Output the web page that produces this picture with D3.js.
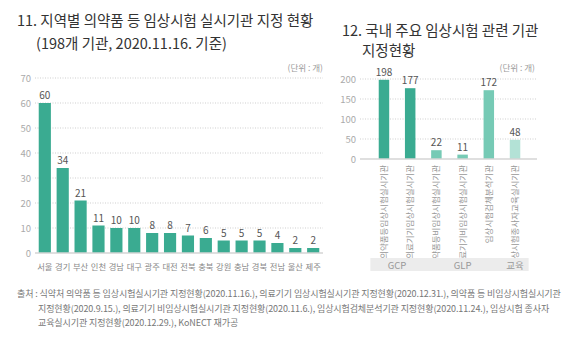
<!DOCTYPE html>
<html>
<head>
<meta charset="utf-8">
<script src="https://cdn.jsdelivr.net/npm/d3@7"></script>
<style>
  body { margin: 0; background: #fff; }
  text { font-family: "Noto Sans CJK KR", "Noto Sans", sans-serif; }
</style>
</head>
<body>
<script>
// chart 11 data
var regions = ["서울", "경기", "부산", "인천", "경남", "대구", "광주", "대전", "전북", "충북", "강원", "충남", "경북", "전남", "울산", "제주"];
var regionCounts = [60, 34, 21, 11, 10, 10, 8, 8, 7, 6, 5, 5, 5, 4, 2, 2];
var regionTicks = [0, 10, 20, 30, 40, 50, 60, 70];

// chart 12 data
var orgs = ["의약품등임상시험실시기관", "의료기기임상시험실시기관", "의약품등비임상시험실시기관",
            "의료기기비임상시험실시기관", "임상시험검체분석기관", "임상시험종사자교육실시기관"];
var orgCounts = [198, 177, 22, 11, 172, 48];
var orgGroup = ["GCP", "GCP", "GLP", "GLP", "GLP", "교육"];
var orgShade = [0, 0, 1, 1, 1, 2];
var orgTicks = [0, 50, 100, 150, 200];
var groups = ["GCP", "GLP", "교육"];

var width = 564, height = 339;

var svg = d3.select("body")
    .append("svg")
    .attr("width", width)
    .attr("height", height);

var gridColor = "#cfcfcf";
var tickColor = "#aaaaaa";

// ---------- chart 11 ----------
svg.append("text").attr("x", 17).attr("y", 26)
    .attr("font-size", 14.5).attr("fill", "#333")
    .text("11. 지역별 의약품 등 임상시험 실시기관 지정 현황");
svg.append("text").attr("x", 36).attr("y", 49)
    .attr("font-size", 14.5).attr("fill", "#333")
    .text("(198개 기관, 2020.11.16. 기준)");
svg.append("text").attr("x", 323).attr("y", 71)
    .attr("text-anchor", "end").attr("font-size", 8.5).attr("fill", "#999")
    .text("(단위 : 개)");

var x1 = d3.scaleBand().domain(regions).range([33, 325]).padding(0.32);
var y1 = d3.scaleLinear().domain([0, 70]).range([253, 78]);

var g1 = svg.append("g");
g1.selectAll(".grid")
    .data(regionTicks.filter(function(d) { return d > 0; }))
    .enter().append("line")
    .attr("x1", 35).attr("x2", 323)
    .attr("y1", function(d) { return y1(d); })
    .attr("y2", function(d) { return y1(d); })
    .attr("stroke", gridColor).attr("stroke-dasharray", "1,1.5");
g1.selectAll(".tick")
    .data(regionTicks).enter().append("text")
    .attr("x", 31).attr("y", function(d) { return y1(d) + 3.5; })
    .attr("text-anchor", "end").attr("font-size", 9.5).attr("fill", tickColor)
    .text(function(d) { return d; });

g1.selectAll(".bar")
    .data(regionCounts).enter().append("rect")
    .attr("x", function(d, i) { return x1(regions[i]); })
    .attr("width", x1.bandwidth())
    .attr("y", function(d) { return y1(d); })
    .attr("height", function(d) { return y1(0) - y1(d); })
    .attr("fill", "#3aab91");
g1.append("line").attr("x1", 35).attr("x2", 323)
    .attr("y1", y1(0)).attr("y2", y1(0))
    .attr("stroke", "#d5d5d5").attr("stroke-width", 1.5);
g1.selectAll(".val")
    .data(regionCounts).enter().append("text")
    .attr("x", function(d, i) { return x1(regions[i]) + x1.bandwidth() / 2; })
    .attr("y", function(d) { return y1(d) - 4; })
    .attr("text-anchor", "middle").attr("font-size", 10).attr("fill", "#555")
    .text(function(d) { return d; });
g1.selectAll(".cat")
    .data(regions).enter().append("text")
    .attr("x", function(d) { return x1(d) + x1.bandwidth() / 2; })
    .attr("y", 270)
    .attr("text-anchor", "middle").attr("font-size", 8.3).attr("fill", "#888")
    .text(function(d) { return d; });

// ---------- chart 12 ----------
svg.append("text").attr("x", 342).attr("y", 36)
    .attr("font-size", 14.5).attr("fill", "#333")
    .text("12. 국내 주요 임상시험 관련 기관");
svg.append("text").attr("x", 362).attr("y", 56)
    .attr("font-size", 14.5).attr("fill", "#333")
    .text("지정현황");
svg.append("text").attr("x", 535).attr("y", 71)
    .attr("text-anchor", "end").attr("font-size", 8.5).attr("fill", "#999")
    .text("(단위 : 개)");

var x2 = d3.scaleBand().domain(orgs).range([363, 536]).padding(0.6);
var y2 = d3.scaleLinear().domain([0, 200]).range([159, 79]);
var shades = ["#3aab91", "#76cab5", "#b3e2d6"];

var g2 = svg.append("g");
g2.selectAll(".grid")
    .data(orgTicks.filter(function(d) { return d > 0; }))
    .enter().append("line")
    .attr("x1", 360).attr("x2", 537)
    .attr("y1", function(d) { return y2(d); })
    .attr("y2", function(d) { return y2(d); })
    .attr("stroke", gridColor).attr("stroke-dasharray", "1,1.5");
g2.selectAll(".tick")
    .data(orgTicks).enter().append("text")
    .attr("x", 356).attr("y", function(d) { return y2(d) + 3.5; })
    .attr("text-anchor", "end").attr("font-size", 9.5).attr("fill", tickColor)
    .text(function(d) { return d; });

g2.selectAll(".bar")
    .data(orgCounts).enter().append("rect")
    .attr("x", function(d, i) { return x2(orgs[i]); })
    .attr("width", x2.bandwidth())
    .attr("y", function(d) { return y2(d); })
    .attr("height", function(d) { return y2(0) - y2(d); })
    .attr("fill", function(d, i) { return shades[orgShade[i]]; });
g2.append("line").attr("x1", 360).attr("x2", 537)
    .attr("y1", y2(0)).attr("y2", y2(0))
    .attr("stroke", "#d5d5d5").attr("stroke-width", 1.5);
g2.selectAll(".val")
    .data(orgCounts).enter().append("text")
    .attr("x", function(d, i) { return x2(orgs[i]) + x2.bandwidth() / 2; })
    .attr("y", function(d) { return y2(d) - 4; })
    .attr("text-anchor", "middle").attr("font-size", 10).attr("fill", "#555")
    .text(function(d) { return d; });
g2.selectAll(".cat")
    .data(orgs).enter().append("text")
    .attr("transform", function(d) {
        return "translate(" + (x2(d) + x2.bandwidth() / 2 + 3) + ",165) rotate(-90)";
    })
    .attr("text-anchor", "end").attr("font-size", 8.5).attr("fill", "#999")
    .text(function(d) { return d; });

// group boxes
var groupSpan = groups.map(function(gname) {
    var idx = orgs.filter(function(o, i) { return orgGroup[i] === gname; });
    return {
        name: gname,
        x0: x2(idx[0]) - x2.step() * x2.padding() / 2 - 2,
        x1: x2(idx[idx.length - 1]) + x2.bandwidth() + x2.step() * x2.padding() / 2 + 2
    };
});
var gb = g2.selectAll(".grp").data(groupSpan).enter().append("g");
gb.append("rect")
    .attr("x", function(d) { return d.x0 + 1.5; })
    .attr("width", function(d) { return d.x1 - d.x0 - 3; })
    .attr("y", 258).attr("height", 13)
    .attr("fill", "#ececec");
gb.append("text")
    .attr("x", function(d) { return (d.x0 + d.x1) / 2; })
    .attr("y", 268.5)
    .attr("text-anchor", "middle").attr("font-size", 9.5).attr("fill", "#999")
    .text(function(d) { return d.name; });

// ---------- source ----------
var src = [
    ["출처 : 식약처 의약품 등 임상시험실시기관 지정현황(2020.11.16.), 의료기기 임상시험실시기관 지정현황(2020.12.31.), 의약품 등 비임상시험실시기관", 17],
    ["지정현황(2020.9.15.), 의료기기 비임상시험실시기관 지정현황(2020.11.6.), 임상시험검체분석기관 지정현황(2020.11.24.), 임상시험 종사자", 38],
    ["교육실시기관 지정현황(2020.12.29.), KoNECT 재가공", 38]
];
svg.selectAll(".src").data(src).enter().append("text")
    .attr("x", function(d) { return d[1]; })
    .attr("y", function(d, i) { return 297 + i * 14.5; })
    .attr("font-size", 9).attr("fill", "#777")
    .attr("letter-spacing", -0.1)
    .text(function(d) { return d[0]; });
</script>
</body>
</html>
